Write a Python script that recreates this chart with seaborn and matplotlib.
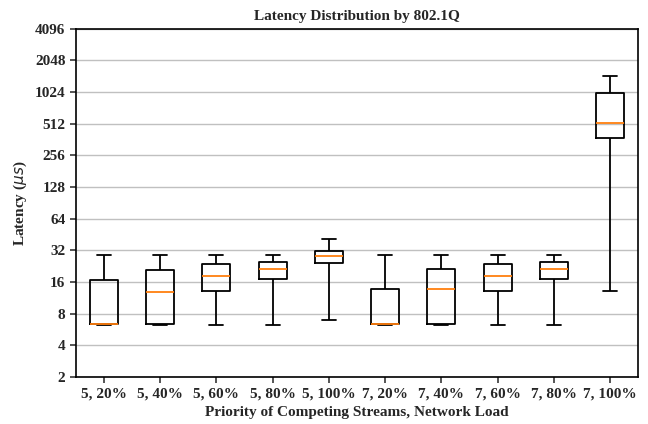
"""
Latency box plots per 802.1Q priority and network load.
"""
import numpy as np
import pandas as pd
import seaborn as sns
import matplotlib
matplotlib.use('Agg')
import matplotlib.pyplot as plt
from matplotlib.ticker import FixedLocator, FuncFormatter, NullLocator

# five-number summaries (min, q1, median, q3, max), in us
labels = ['5, 20%', '5, 40%', '5, 60%', '5, 80%', '5, 100%',
          '7, 20%', '7, 40%', '7, 60%', '7, 80%', '7, 100%']
lat_min = [6.3, 6.3, 6.3, 6.3, 7.0, 6.3, 6.3, 6.3, 6.3, 13.2]
lat_q1 = [6.35, 6.35, 13.2, 17.2, 24.2, 6.35, 6.35, 13.1, 17.2, 373]
lat_med = [6.35, 12.8, 18.4, 21.3, 28.2, 6.35, 13.7, 18.4, 21.2, 526]
lat_q3 = [16.7, 21.0, 23.8, 25.0, 31.8, 13.8, 21.2, 23.7, 25.0, 1014]
lat_max = [29, 29, 29, 29, 41, 29, 29, 29, 29, 1468]
yticks = [2, 4, 8, 16, 32, 64, 128, 256, 512, 1024, 2048, 4096]


def vis():
    rows = []
    for i, lab in enumerate(labels):
        for v in (lat_min[i], lat_q1[i], lat_med[i], lat_q3[i], lat_max[i]):
            rows.append({'group': lab, 'latency': v})
    df = pd.DataFrame(rows)

    sns.set_style('ticks')
    plt.rcParams['font.family'] = ['Liberation Serif', 'DejaVu Serif']
    plt.rcParams['mathtext.fontset'] = 'custom'
    plt.rcParams['mathtext.it'] = 'DejaVu Sans:italic:normal'
    plt.rcParams['mathtext.rm'] = 'DejaVu Sans:normal'

    fig = plt.figure(figsize=(6.48, 4.24), dpi=100)
    ax = fig.add_axes([0.117, 0.111, 0.868, 0.821])
    sns.boxplot(data=df, x='group', y='latency', order=labels,
                whis=(0, 100), width=0.5, color='black', fill=False,
                linewidth=1.3, log_scale=2,
                medianprops={'color': '#ff7f0e', 'linewidth': 1.3},
                ax=ax)

    ax.set_ylim(2, 4096)
    ax.yaxis.set_major_locator(FixedLocator(yticks))
    ax.yaxis.set_major_formatter(FuncFormatter(lambda v, p: f'{int(round(v))}'))
    ax.yaxis.set_minor_locator(NullLocator())
    ax.yaxis.grid(True, color='#c0c0c0', linewidth=1.0)
    ax.set_axisbelow(True)
    for s in ax.spines.values():
        s.set_visible(True)
        s.set_color('black')
        s.set_linewidth(1.2)

    ax.tick_params(labelsize=11, width=1.1, length=4)
    for t in ax.get_xticklabels() + ax.get_yticklabels():
        t.set_fontweight('bold')
    ax.set_title('Latency Distribution by 802.1Q', fontsize=11, fontweight='bold')
    ax.set_xlabel('Priority of Competing Streams, Network Load', fontsize=11,
                  fontweight='bold')
    ax.set_ylabel(r'Latency ($\mu s$)', fontsize=11, fontweight='bold')

    fig.savefig('out.png', dpi=100)


if __name__ == "__main__":
    vis()
